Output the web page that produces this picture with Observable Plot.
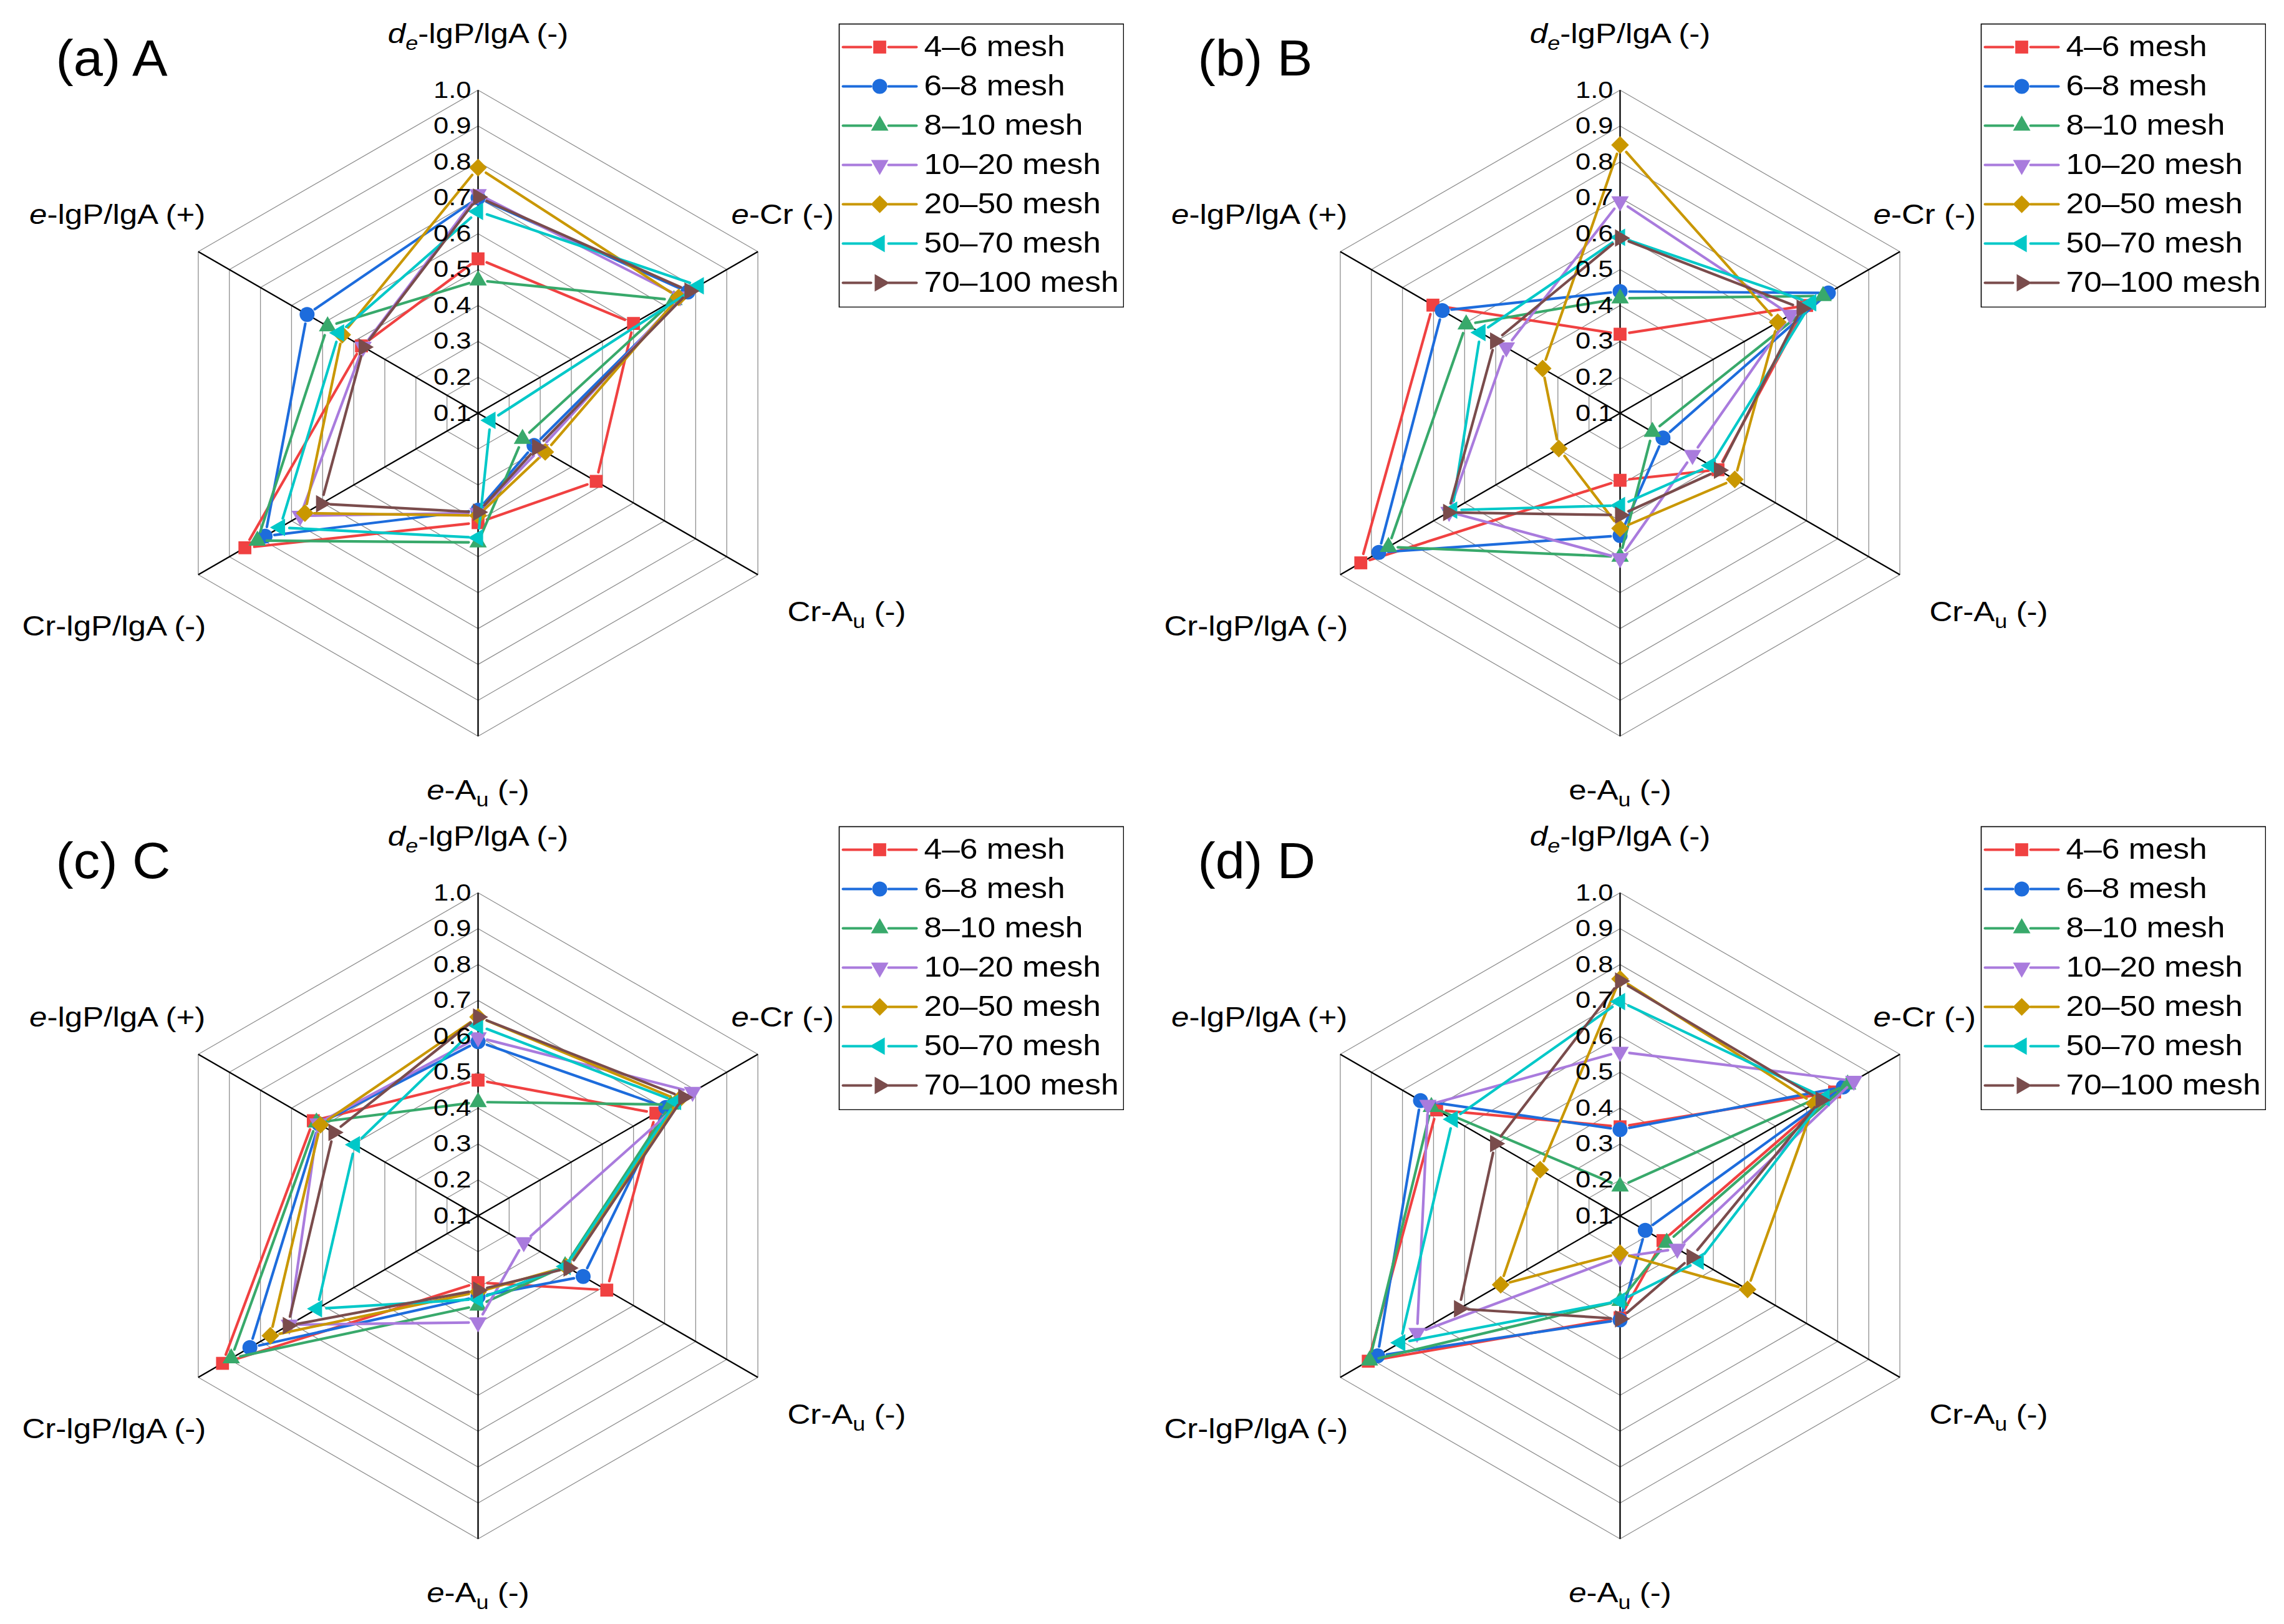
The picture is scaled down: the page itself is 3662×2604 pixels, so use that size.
<!DOCTYPE html>
<html>
<head>
<meta charset="utf-8">
<script src="https://cdn.jsdelivr.net/npm/d3@7"></script>
<script src="https://cdn.jsdelivr.net/npm/@observablehq/plot@0.6"></script>
<style>
  html, body { margin: 0; padding: 0; background: #fff; }
  #fig { position: relative; width: 3662px; height: 2604px; background: #fff; overflow: hidden; }
  #fig > svg { position: absolute; }
</style>
</head>
<body>
<div id="fig"></div>
<script>
// ---------------- data ----------------
const axisKeys = ["de-lgP/lgA", "e-Cr", "Cr-Au", "e-Au", "Cr-lgP/lgA", "e-lgP/lgA"];
const axisLabels = [
  "<i>d</i><sub><i>e</i></sub>-lgP/lgA (-)",
  "<i>e</i>-Cr (-)",
  "Cr-A<sub>u</sub> (-)",
  "<i>e</i>-A<sub>u</sub> (-)",
  "Cr-lgP/lgA (-)",
  "<i>e</i>-lgP/lgA (+)"
];
const axisLabelsB = [
  "<i>d</i><sub><i>e</i></sub>-lgP/lgA (-)",
  "<i>e</i>-Cr (-)",
  "Cr-A<sub>u</sub> (-)",
  "e-A<sub>u</sub> (-)",
  "Cr-lgP/lgA (-)",
  "<i>e</i>-lgP/lgA (+)"
];
const meshes = ["4–6 mesh", "6–8 mesh", "8–10 mesh", "10–20 mesh", "20–50 mesh", "50–70 mesh", "70–100 mesh"];
const tickValues = [0.1, 0.2, 0.3, 0.4, 0.5, 0.6, 0.7, 0.8, 0.9, 1.0];
const ringLevels = [0.2, 0.3, 0.4, 0.5, 0.6, 0.7, 0.8, 0.9, 1.0];
const panelTitles = ["(a) A", "(b) B", "(c) C", "(d) D"];

// rows: meshes; columns: axisKeys order
const valuesA = [
  [0.53, 0.60, 0.48, 0.405, 0.85, 0.475],
  [0.70, 0.775, 0.28, 0.37, 0.785, 0.65],
  [0.47, 0.73, 0.243, 0.46, 0.81, 0.584],
  [0.71, 0.75, 0.30, 0.378, 0.672, 0.47],
  [0.784, 0.745, 0.316, 0.385, 0.657, 0.537],
  [0.662, 0.81, 0.14, 0.447, 0.737, 0.547],
  [0.702, 0.78, 0.29, 0.376, 0.605, 0.468]
];
const valuesB = [
  [0.32, 0.70, 0.415, 0.287, 0.934, 0.702],
  [0.439, 0.77, 0.238, 0.441, 0.876, 0.672],
  [0.42, 0.753, 0.204, 0.50, 0.845, 0.595],
  [0.69, 0.648, 0.333, 0.504, 0.65, 0.466],
  [0.847, 0.607, 0.469, 0.421, 0.297, 0.349],
  [0.59, 0.715, 0.392, 0.357, 0.64, 0.549],
  [0.588, 0.684, 0.418, 0.384, 0.653, 0.502]
];
const valuesC = [
  [0.478, 0.672, 0.514, 0.286, 0.922, 0.63],
  [0.585, 0.704, 0.438, 0.325, 0.834, 0.612],
  [0.417, 0.72, 0.38, 0.35, 0.894, 0.62],
  [0.597, 0.79, 0.247, 0.397, 0.707, 0.615],
  [0.654, 0.745, 0.384, 0.312, 0.768, 0.607],
  [0.63, 0.737, 0.382, 0.332, 0.618, 0.496],
  [0.654, 0.76, 0.391, 0.307, 0.712, 0.565]
];
const valuesD = [
  [0.348, 0.79, 0.238, 0.384, 0.91, 0.69],
  [0.34, 0.818, 0.181, 0.39, 0.88, 0.742],
  [0.182, 0.832, 0.25, 0.337, 0.906, 0.707],
  [0.557, 0.852, 0.284, 0.215, 0.753, 0.718],
  [0.76, 0.725, 0.51, 0.204, 0.484, 0.357],
  [0.697, 0.758, 0.353, 0.337, 0.807, 0.638],
  [0.754, 0.745, 0.33, 0.387, 0.618, 0.502]
];

// ---------------- styles ----------------
const colors = ["#f04141", "#1d6cdc", "#38a96b", "#a97bdd", "#c99700", "#00c8c8", "#7a4c4c"];
const FONT = "'Liberation Sans', Arial, Helvetica, sans-serif";

function triangle(dir) {
  return {
    draw(ctx, size) {
      const k = Math.sqrt(size / (3 * Math.sqrt(3)));
      const s = Math.sqrt(3) * k;
      let p;
      if (dir === "up") p = [[0, -2 * k], [-s, k], [s, k]];
      else if (dir === "down") p = [[0, 2 * k], [-s, -k], [s, -k]];
      else if (dir === "left") p = [[-2 * k, 0], [k, -s], [k, s]];
      else p = [[2 * k, 0], [-k, -s], [-k, s]];
      ctx.moveTo(p[0][0], p[0][1]);
      ctx.lineTo(p[1][0], p[1][1]);
      ctx.lineTo(p[2][0], p[2][1]);
      ctx.closePath();
    }
  };
}
const symbols = ["square", "circle", triangle("up"), triangle("down"), "diamond2", triangle("left"), triangle("right")];
const symbolR = [11.7, 12, 10.4, 10.4, 12.8, 10.4, 10.4];

// geometry (pixels inside each panel svg)
const CX = 766, CY = 662, R = 518;
const labelLayout = [
  {x: 0, y: 1.145, anchor: "middle"},
  {x: 0.784, y: 0.585, anchor: "start"},
  {x: 0.9575, y: -0.643, anchor: "start"},
  {x: 0, y: -1.195, anchor: "middle"},
  {x: -0.842, y: -0.689, anchor: "end"},
  {x: -0.844, y: 0.585, anchor: "end"}
];

const radial = v => (v - 0.1) / 0.9;
const angle = k => Math.PI / 2 - k * Math.PI / 3;
const px = d => radial(d.v) * Math.cos(angle(d.k));
const py = d => radial(d.v) * Math.sin(angle(d.k));
const axisIdx = axisKeys.map((_, k) => k);
const ringData = ringLevels.flatMap(level => axisIdx.map(k => ({level, k, v: level})));
const tickText = v => v.toFixed(1);
const tickStrings = tickValues.map(tickText);

function richify(el, markup, subSize, subDrop) {
  const tokens = markup.split(/(<\/?i>|<\/?sub>)/).filter(s => s.length);
  while (el.firstChild) el.removeChild(el.firstChild);
  let ital = false, sub = false, shifted = 0;
  for (const t of tokens) {
    if (t === "<i>") ital = true;
    else if (t === "</i>") ital = false;
    else if (t === "<sub>") sub = true;
    else if (t === "</sub>") sub = false;
    else {
      const ts = document.createElementNS("http://www.w3.org/2000/svg", "tspan");
      ts.textContent = t;
      if (ital) ts.setAttribute("font-style", "italic");
      const want = sub ? subDrop : 0;
      if (want !== shifted) { ts.setAttribute("dy", want - shifted); shifted = want; }
      if (sub) ts.setAttribute("font-size", subSize);
      el.appendChild(ts);
    }
  }
}
function stretchEl(el, f) {
  el.setAttribute("transform", (el.getAttribute("transform") || "") + ` scale(${f},1)`);
}

const fig = document.getElementById("fig");
const panels = [
  {title: panelTitles[0], values: valuesA, labels: axisLabels, ox: 0, oy: 0, h: 1340},
  {title: panelTitles[1], values: valuesB, labels: axisLabelsB, ox: 1831, oy: 0, h: 1340},
  {title: panelTitles[2], values: valuesC, labels: axisLabels, ox: 0, oy: 1287, h: 1317},
  {title: panelTitles[3], values: valuesD, labels: axisLabels, ox: 1831, oy: 1287, h: 1317}
];

for (const p of panels) {
  const marks = [];
  marks.push(Plot.line(ringData, {x: px, y: py, z: "level", curve: "linear-closed", stroke: "#8e8e8e", strokeWidth: 1.3}));
  marks.push(Plot.link(axisIdx, {
    x1: 0, y1: 0,
    x2: k => px({k, v: 1}), y2: k => py({k, v: 1}),
    stroke: "#000", strokeWidth: 2.3
  }));
  p.values.forEach((vals, s) => {
    const pts = vals.map((v, k) => ({k, v}));
    const segs = pts.map((d, i) => [d, pts[(i + 1) % pts.length]]);
    marks.push(Plot.arrow(segs, {
      x1: d => px(d[0]), y1: d => py(d[0]), x2: d => px(d[1]), y2: d => py(d[1]),
      stroke: colors[s], strokeWidth: 4.2, headLength: 0, insetStart: 15, insetEnd: 15,
      strokeLinecap: "round"
    }));
    marks.push(Plot.dot(pts, {x: px, y: py, symbol: symbols[s], r: symbolR[s], fill: colors[s], stroke: "none"}));
  });
  marks.push(Plot.text(tickValues, {
    x: 0, y: v => py({k: 0, v}), text: tickText,
    textAnchor: "end", dx: -11, fontSize: 37.5, fill: "#000"
  }));
  p.labels.forEach((lab, k) => {
    const L = labelLayout[k];
    marks.push(Plot.text([lab], {
      x: L.x, y: L.y, text: d => d, textAnchor: L.anchor, lineAnchor: "bottom",
      fontSize: 44, fill: "#000"
    }));
  });
  marks.push(Plot.text([p.title], {
    x: (89 - CX) / R, y: (CY - 120.5) / R, text: d => d, textAnchor: "start", lineAnchor: "bottom",
    fontSize: 82, fill: "#000"
  }));

  const svg = Plot.plot({
    width: 1831, height: p.h, margin: 0,
    x: {domain: [-1, 1], range: [CX - R, CX + R], axis: null},
    y: {domain: [-1, 1], range: [CY + R, CY - R], axis: null},
    style: {fontFamily: FONT, background: "transparent", color: "#000"},
    marks
  });
  svg.querySelectorAll("text").forEach(el => {
    const t = el.textContent;
    if (p.labels.includes(t)) { richify(el, t, 31, 11); stretchEl(el, 1.16); }
    else if (tickStrings.includes(t)) stretchEl(el, 1.16);
    else if (t === p.title) stretchEl(el, 1.035);
  });
  svg.style.left = p.ox + "px";
  svg.style.top = p.oy + "px";
  fig.appendChild(svg);

  // legend
  const lmarks = [Plot.frame({stroke: "#000", strokeWidth: 1.6, inset: 1})];
  meshes.forEach((m, s) => {
    lmarks.push(Plot.link([m], {x1: 7, x2: 52, y1: d => d, y2: d => d, stroke: colors[s], strokeWidth: 4, strokeLinecap: "round"}));
    lmarks.push(Plot.link([m], {x1: 80, x2: 125, y1: d => d, y2: d => d, stroke: colors[s], strokeWidth: 4, strokeLinecap: "round"}));
    lmarks.push(Plot.dot([m], {x: 66, y: d => d, symbol: symbols[s], r: symbolR[s], fill: colors[s], stroke: "none"}));
  });
  lmarks.push(Plot.text(meshes, {x: 137, y: d => d, text: d => d, textAnchor: "start", fontSize: 46, fill: "#000"}));
  const leg = Plot.plot({
    width: 458, height: 456, margin: 0,
    x: {domain: [0, 458], range: [0, 458], axis: null},
    y: {type: "point", domain: meshes, range: [36, 417], padding: 0, axis: null},
    style: {fontFamily: FONT, background: "transparent", color: "#000"},
    marks: lmarks
  });
  leg.querySelectorAll("text").forEach(el => stretchEl(el, 1.12));
  leg.style.left = (p.ox + 1344) + "px";
  leg.style.top = (p.oy + 37) + "px";
  fig.appendChild(leg);
}
</script>
</body>
</html>
